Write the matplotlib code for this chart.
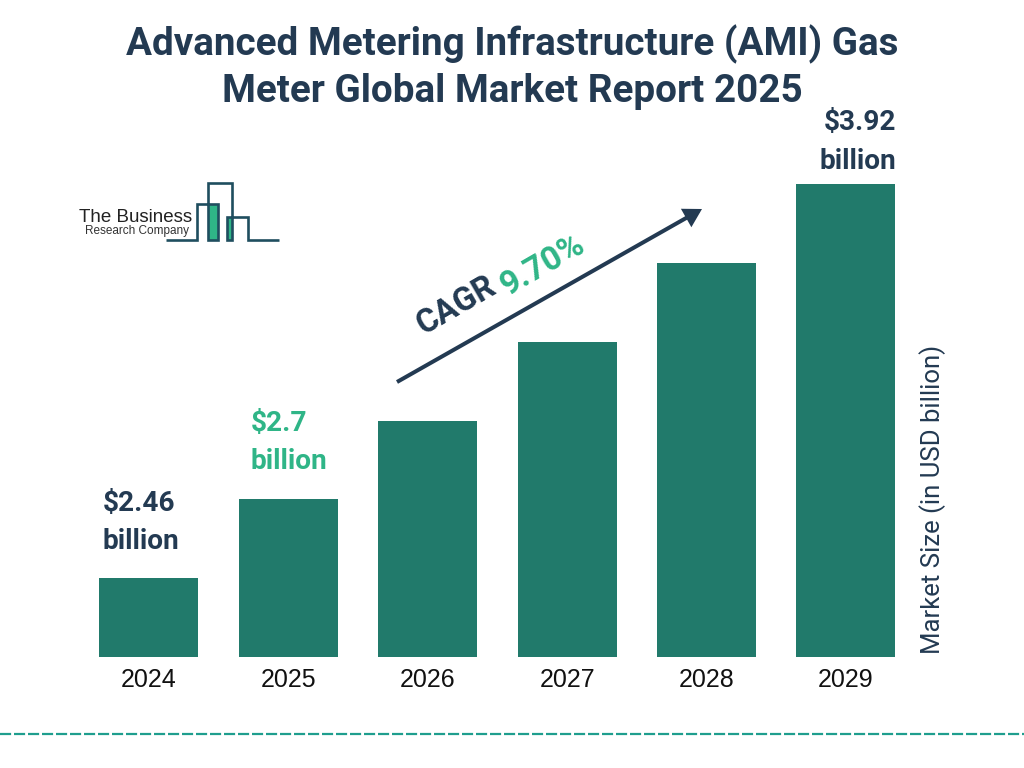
import matplotlib.pyplot as plt

plt.rcParams["font.family"] = ["Roboto", "DejaVu Sans"]

TITLE = "Advanced Metering Infrastructure (AMI) Gas\nMeter Global Market Report 2025"
YEARS = ["2024", "2025", "2026", "2027", "2028", "2029"]
# bars in the picture rise in equal steps, they are not to scale with the dollar labels
BAR_LEVELS = [1, 2, 3, 4, 5, 6]
BAR_LABELS = {0: "$2.46\nbillion", 1: "$2.7\nbillion", 5: "$3.92\nbillion"}
LABEL_GAP = {0: 0.29, 1: 0.305, 5: 0.115}

NAVY = "#233A52"
BAR = "#217A6B"
GREEN = "#2FB587"
DASH = "#1F9E8E"
LOGO = "#1F4E5F"

fig = plt.figure(figsize=(10.24, 7.68), dpi=100)

# overlay in pixel coordinates for title, logo and arrow
bg = fig.add_axes([0, 0, 1, 1])
bg.set_xlim(0, 1024)
bg.set_ylim(768, 0)
bg.axis("off")

# bar axes, baseline at 657 px
ax = fig.add_axes([79.2 / 1024, (768 - 657) / 768, 836.4 / 1024, 552 / 768])
ax.patch.set_alpha(0)
xs = list(range(len(YEARS)))
ax.bar(xs, BAR_LEVELS, width=0.71, color=BAR)
ax.set_xlim(-0.5, 5.5)
ax.set_ylim(0, 552 / 78.83)
ax.set_xticks(xs, YEARS, fontsize=18, family="Liberation Sans", color="#111111")
ax.tick_params(axis="x", length=0, pad=8)
ax.set_yticks([])
for s in ax.spines.values():
    s.set_visible(False)

for i, txt in BAR_LABELS.items():
    c = GREEN if i == 1 else NAVY
    ha = "right" if i == 5 else "left"
    x = {0: -0.33, 1: 0.73, 5: 5.36}[i]
    ax.text(x, BAR_LEVELS[i] + LABEL_GAP[i], txt, ha=ha, va="bottom", color=c, fontsize=20.2,
            fontweight="bold", linespacing=1.55)

bg.text(512, 67, TITLE, ha="center", va="center", color=NAVY, fontsize=27.8,
        fontweight="bold", linespacing=1.3)

bg.annotate("", xy=(702, 209), xytext=(397, 382),
            arrowprops=dict(arrowstyle="-|>,head_width=0.32,head_length=0.55", color=NAVY,
                            lw=2.9, shrinkA=0, shrinkB=0, mutation_scale=16,
                            joinstyle="miter", capstyle="butt"))
bg.text(456, 306, "CAGR", rotation=30, rotation_mode="anchor", ha="center", va="center",
        color=NAVY, fontsize=23.5, fontweight="bold")
bg.text(543, 265, "9.70%", rotation=30, rotation_mode="anchor", ha="center", va="center",
        color=GREEN, fontsize=24, fontweight="bold")

bg.text(933, 499, "Market Size (in USD billion)", rotation=90, ha="center", va="center",
        color=NAVY, fontsize=18.5)

# dashed rule near the bottom
bg.plot([0, 1024], [734, 734], color=DASH, lw=1.6, dashes=(5, 1.3))

# logo
bg.fill_between([208, 218], 204, 240, color=GREEN, lw=0)
bg.fill_between([227, 232], 217, 240, color=GREEN, lw=0)
bg.plot([166, 197, 197, 218, 218, 208, 208, 232, 232, 227, 227, 248, 248, 279],
        [240, 240, 204, 204, 240, 240, 183, 183, 240, 240, 217, 217, 240, 240],
        color=LOGO, lw=1.9, solid_joinstyle="miter", solid_capstyle="butt")
bg.text(79, 217, "The Business", ha="left", va="center", color="#222222", fontsize=13.5,
        family="Liberation Sans")
bg.text(85, 231, "Research Company", ha="left", va="center", color="#333333", fontsize=8.45,
        family="Liberation Sans")

fig.savefig("out.png", dpi=100)
